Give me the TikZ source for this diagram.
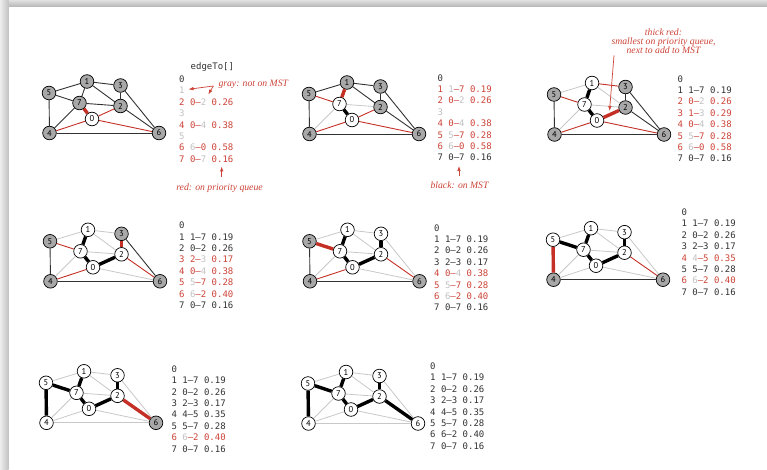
\documentclass[tikz,border=0pt]{standalone}
\usepackage{fontspec}
\setmainfont{Liberation Serif}
\setsansfont{PT Sans}
\setmonofont{DejaVu Sans Mono}
\usepackage{tikz}
\usetikzlibrary{arrows.meta}

\definecolor{pqred}{RGB}{196,48,38}
\definecolor{txtred}{RGB}{204,66,54}
\definecolor{vgray}{RGB}{168,168,168}
\definecolor{egray}{RGB}{200,200,200}
\definecolor{tgray}{RGB}{192,192,192}
\definecolor{ink}{RGB}{50,50,50}

% table colours: red = on priority queue, gray = not on MST
\newcommand{\pq}[1]{\textcolor{txtred}{#1}}
\newcommand{\nt}[1]{\textcolor{tgray}{#1}}

% vertex positions of one drawing (first panel)
\def\vx{{92,87,120.5,120.5,49.5,49,159,79.5}}
\def\vy{{119,81.5,106,85.5,133,93,133,103}}

% #1 = vertex/style list, #2 = edge/style list
\newcommand{\wgraph}[2]{%
  \foreach \v/\s in {#1}{\node[\s] (\v) at ({\vx[\v]},{\vy[\v]}) {\v};}
  \foreach \a/\b/\s in {#2}{\draw[\s] (\a) -- (\b);}
}

\tikzset{
  vtx/.style={circle,draw=black,line width=0.7pt,minimum size=13.6pt,inner sep=0pt,
    font=\sffamily\fontsize{8.5}{8.5}\selectfont},
  invtx/.style={vtx,fill=white},
  outvtx/.style={vtx,fill=vgray},
  newedge/.style={draw=ink,line width=0.9pt},
  deadedge/.style={draw=egray,line width=0.8pt},
  pqedge/.style={draw=pqred,line width=0.9pt},
  nextedge/.style={draw=pqred,line width=3.4pt},
  mstedge/.style={draw=black,line width=3.4pt},
  tbl/.style={anchor=north west,inner sep=0pt,align=left,text=ink,
    font=\ttfamily\fontsize{9}{11.4}\selectfont},
  note/.style={text=txtred,inner sep=0pt,font=\itshape\fontsize{9.7}{9}\selectfont},
  notearrow/.style={draw=txtred,line width=0.7pt,-{Latex[length=5pt,width=3.6pt]}},
}

\begin{document}
\begin{tikzpicture}[x=1pt,y=-1pt]
\useasboundingbox (0,0) rectangle (767,470);
\shade[top color=black!12,bottom color=black!28] (0,0) rectangle (767,6.5);
\shade[left color=black!7,right color=black!24] (0,0) rectangle (8.5,470);

% ================= Panel 1: start from 0 =================
\begin{scope}[name prefix=a-]
\wgraph{0/invtx,1/outvtx,2/outvtx,3/outvtx,4/outvtx,5/outvtx,6/outvtx,7/outvtx}%
{0/7/nextedge,1/7/newedge,0/2/pqedge,2/3/newedge,4/5/newedge,5/7/newedge,2/6/newedge,0/4/pqedge,%
4/7/newedge,1/5/newedge,1/2/newedge,1/3/newedge,2/7/newedge,3/6/newedge,0/6/pqedge,4/6/newedge}
\end{scope}
\node[anchor=base west,inner sep=0pt,text=ink,font=\ttfamily\fontsize{9}{11.4}\selectfont] (head) at (190.5,69.5) {edgeTo[]};
\node[tbl] (tabA) at (179,75.7)
  {0\\\nt{1}\\\pq{2 0–\nt{2} 0.26}\\\nt{3}\\\pq{4 0–\nt{4} 0.38}\\\nt{5}\\\pq{6 \nt{6}–0 0.58}\\\pq{7 0–\nt{7} 0.16}};
\node[note,anchor=base west] (graynote) at (218.3,86.5) {gray: not on MST};
\coordinate (graytipA) at (188.5,89.3);
\coordinate (graytipB) at (208.3,94.5);
\draw[notearrow] ([xshift=-5pt,yshift=0.5pt]graynote.base west) -- (graytipA);
\draw[notearrow] ([xshift=-5pt,yshift=0.5pt]graynote.base west) -- (graytipB);
\node[note,anchor=base] (pqnote) at (219.5,190.5) {red: on priority queue};
\coordinate (pqtip) at (221.7,166.5);
\draw[notearrow,shorten <=7pt] (pqtip |- pqnote.north) -- (pqtip);

% ================= Panel 2: add 0-7 =================
\begin{scope}[shift={(260,1)},name prefix=b-]
\wgraph{0/invtx,1/outvtx,2/outvtx,3/outvtx,4/outvtx,5/outvtx,6/outvtx,7/invtx}%
{0/7/mstedge,1/7/nextedge,0/2/pqedge,2/3/newedge,4/5/newedge,5/7/pqedge,2/6/newedge,0/4/pqedge,%
4/7/deadedge,1/5/newedge,1/2/newedge,1/3/newedge,2/7/deadedge,3/6/newedge,0/6/pqedge,4/6/newedge}
\end{scope}
\node[tbl] (tabB) at (437.3,74.2)
  {0\\\pq{1 \nt{1}–7 0.19}\\\pq{2 0–\nt{2} 0.26}\\\nt{3}\\\pq{4 0–\nt{4} 0.38}\\\pq{5 \nt{5}–7 0.28}\\\pq{6 \nt{6}–0 0.58}\\7 0–7 0.16};
\node[note,anchor=base] (mstnote) at (459.5,189) {black: on MST};
\coordinate (msttip) at (459,166);
\draw[notearrow,shorten <=5.7pt] (msttip |- mstnote.north) -- (msttip);

% ================= Panel 3: add 1-7 =================
\begin{scope}[shift={(505,1.5)},name prefix=c-]
\wgraph{0/invtx,1/invtx,2/outvtx,3/outvtx,4/outvtx,5/outvtx,6/outvtx,7/invtx}%
{0/7/mstedge,1/7/mstedge,0/2/nextedge,2/3/newedge,4/5/newedge,5/7/pqedge,2/6/newedge,0/4/pqedge,%
4/7/deadedge,1/5/deadedge,1/2/deadedge,1/3/pqedge,2/7/deadedge,3/6/newedge,0/6/pqedge,4/6/newedge}
\end{scope}
\node[tbl] (tabC) at (677.3,75.3)
  {0\\1 1–7 0.19\\\pq{2 0–\nt{2} 0.26}\\\pq{3 1–\nt{3} 0.29}\\\pq{4 0–\nt{4} 0.38}\\\pq{5 \nt{5}–7 0.28}\\\pq{6 \nt{6}–0 0.58}\\7 0–7 0.16};
\node[note,anchor=south,align=center] (nextnote) at (663.5,54)
  {thick red:\\smallest on priority queue,\\next to add to MST};
\coordinate (nexttip) at (609.5,111);
\draw[notearrow] ([xshift=-49.5pt,yshift=-1.5pt]nextnote.south) -- (nexttip);

% ================= Panel 4: add 0-2 =================
\begin{scope}[shift={(1,148.3)},name prefix=d-]
\wgraph{0/invtx,1/invtx,2/invtx,3/outvtx,4/outvtx,5/outvtx,6/outvtx,7/invtx}%
{0/7/mstedge,1/7/mstedge,0/2/mstedge,2/3/nextedge,4/5/newedge,5/7/pqedge,2/6/pqedge,0/4/pqedge,%
4/7/deadedge,1/5/deadedge,1/2/deadedge,1/3/deadedge,2/7/deadedge,3/6/newedge,0/6/deadedge,4/6/newedge}
\end{scope}
\node[tbl] (tabD) at (179,221.8)
  {0\\1 1–7 0.19\\2 0–2 0.26\\\pq{3 2–\nt{3} 0.17}\\\pq{4 0–\nt{4} 0.38}\\\pq{5 \nt{5}–7 0.28}\\\pq{6 \nt{6}–2 0.40}\\7 0–7 0.16};

% ================= Panel 5: add 2-3 =================
\begin{scope}[shift={(260.5,148.3)},name prefix=e-]
\wgraph{0/invtx,1/invtx,2/invtx,3/invtx,4/outvtx,5/outvtx,6/outvtx,7/invtx}%
{0/7/mstedge,1/7/mstedge,0/2/mstedge,2/3/mstedge,4/5/newedge,5/7/nextedge,2/6/pqedge,0/4/pqedge,%
4/7/deadedge,1/5/deadedge,1/2/deadedge,1/3/deadedge,2/7/deadedge,3/6/deadedge,0/6/deadedge,4/6/newedge}
\end{scope}
\node[tbl] (tabE) at (434,224.3)
  {0\\1 1–7 0.19\\2 0–2 0.26\\3 2–3 0.17\\\pq{4 0–\nt{4} 0.38}\\\pq{5 \nt{5}–7 0.28}\\\pq{6 \nt{6}–2 0.40}\\7 0–7 0.16};

% ================= Panel 6: add 5-7 =================
\begin{scope}[shift={(504,146.7)},name prefix=f-]
\wgraph{0/invtx,1/invtx,2/invtx,3/invtx,4/outvtx,5/invtx,6/outvtx,7/invtx}%
{0/7/mstedge,1/7/mstedge,0/2/mstedge,2/3/mstedge,4/5/nextedge,5/7/mstedge,2/6/pqedge,0/4/deadedge,%
4/7/deadedge,1/5/deadedge,1/2/deadedge,1/3/deadedge,2/7/deadedge,3/6/deadedge,0/6/deadedge,4/6/newedge}
\end{scope}
\node[tbl] (tabF) at (681.3,208.7)
  {0\\1 1–7 0.19\\2 0–2 0.26\\3 2–3 0.17\\\pq{4 \nt{4}–5 0.35}\\5 5–7 0.28\\\pq{6 \nt{6}–2 0.40}\\7 0–7 0.16};

% ================= Panel 7: add 4-5 =================
\begin{scope}[shift={(-3,289.8)},name prefix=g-]
\wgraph{0/invtx,1/invtx,2/invtx,3/invtx,4/invtx,5/invtx,6/outvtx,7/invtx}%
{0/7/mstedge,1/7/mstedge,0/2/mstedge,2/3/mstedge,4/5/mstedge,5/7/mstedge,2/6/nextedge,0/4/deadedge,%
4/7/deadedge,1/5/deadedge,1/2/deadedge,1/3/deadedge,2/7/deadedge,3/6/deadedge,0/6/deadedge,4/6/deadedge}
\end{scope}
\node[tbl] (tabG) at (171.3,365.4)
  {0\\1 1–7 0.19\\2 0–2 0.26\\3 2–3 0.17\\4 4–5 0.35\\5 5–7 0.28\\\pq{6 \nt{6}–2 0.40}\\7 0–7 0.16};

% ================= Panel 8: add 6-2, MST done =================
\begin{scope}[shift={(259,290.5)},name prefix=h-]
\wgraph{0/invtx,1/invtx,2/invtx,3/invtx,4/invtx,5/invtx,6/invtx,7/invtx}%
{0/7/mstedge,1/7/mstedge,0/2/mstedge,2/3/mstedge,4/5/mstedge,5/7/mstedge,2/6/mstedge,0/4/deadedge,%
4/7/deadedge,1/5/deadedge,1/2/deadedge,1/3/deadedge,2/7/deadedge,3/6/deadedge,0/6/deadedge,4/6/deadedge}
\end{scope}
\node[tbl] (tabH) at (430,362.7)
  {0\\1 1–7 0.19\\2 0–2 0.26\\3 2–3 0.17\\4 4–5 0.35\\5 5–7 0.28\\6 6–2 0.40\\7 0–7 0.16};
\end{tikzpicture}
\end{document}
